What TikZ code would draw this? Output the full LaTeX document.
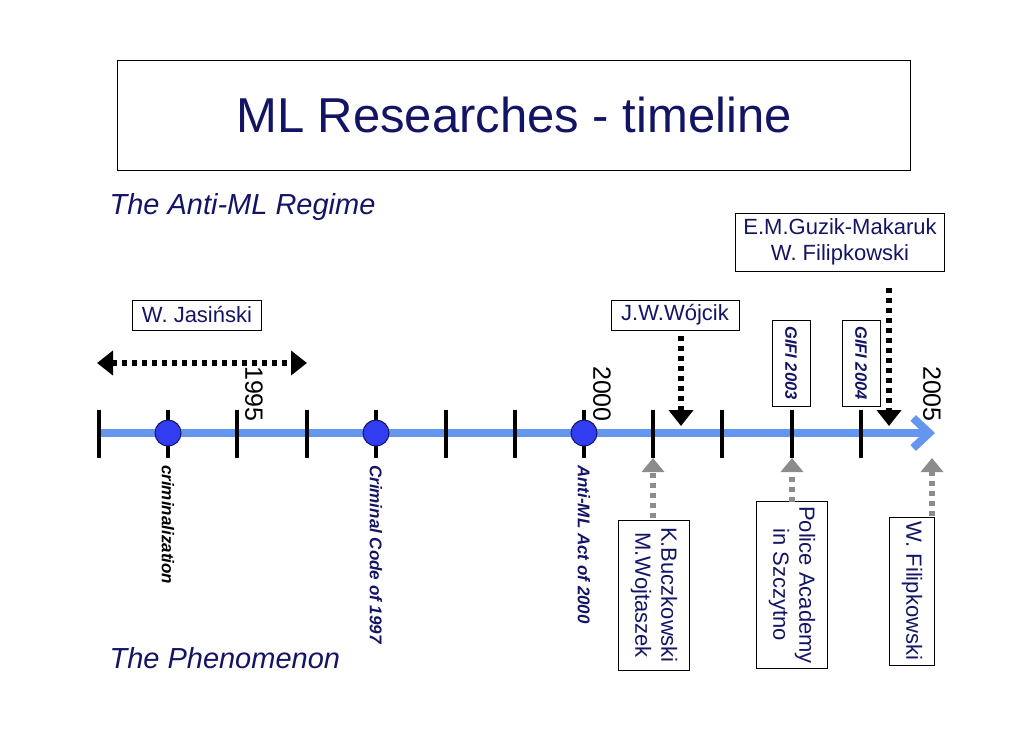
\documentclass[tikz,border=0pt]{standalone}
\usepackage{fontspec}
\setmainfont{Liberation Sans}
\usetikzlibrary{positioning, arrows.meta}
\definecolor{navy}{RGB}{20,20,100}
\definecolor{axisblue}{RGB}{100,150,240}
\definecolor{dotblue}{RGB}{50,60,240}
\definecolor{dotgray}{RGB}{140,140,140}

\begin{document}
\begin{tikzpicture}[x=1pt, y=-1pt,
  namebox/.style={draw, text=navy, font=\fontsize{22}{26}\selectfont, align=center, inner sep=2pt},
  gifibox/.style={draw, rotate=-90, text=navy, font=\fontsize{16.5}{18}\selectfont\bfseries\itshape, minimum width=86pt, minimum height=38pt, inner sep=1pt},
  sidebox/.style={draw, rotate=-90, text=navy, font=\fontsize{22}{26}\selectfont, align=center, inner sep=2pt},
  event/.style={rotate=-90, anchor=west, font=\fontsize{17}{19}\selectfont\bfseries\itshape, inner sep=0pt},
  year/.style={rotate=-90, font=\fontsize{25}{27}\selectfont, inner sep=0pt},
  topline/.style={line width=6pt, dash pattern=on 5pt off 5pt, -{Triangle[length=16pt,width=24pt]}},
  upline/.style={line width=6pt, dotgray, dash pattern=on 5pt off 5pt, -{Triangle[length=14pt,width=22pt]}}]
  \useasboundingbox (0,0) rectangle (1030,728);
  \node[draw, minimum width=793pt, minimum height=110pt, text=navy, font=\fontsize{49}{52}\selectfont] (title) at (514,115) {ML Researches - timeline};
  \node[anchor=west, text=navy, font=\fontsize{29}{31}\selectfont\itshape] (regime) at (106,207) {The Anti-ML Regime};
  \node[anchor=west, text=navy, font=\fontsize{29}{31}\selectfont\itshape] (phen) at (106,658) {The Phenomenon};
  % axis
  \coordinate (start) at (97,433);
  \coordinate (end) at (935,433);
  \draw[axisblue, line width=8pt, -{Straight Barb[length=16pt,width=30pt,line width=8pt]}] (start) -- (end);
  \foreach \x in {99,168,237,307,376,446,515,584,653,722,792,861}{
    \draw[line width=4pt] (\x,410) coordinate (t\x) -- (\x,458) coordinate (b\x);
  }
  \foreach \x in {168,376,584}{
    \filldraw[fill=dotblue, draw=navy, line width=1pt] (\x,433) circle (13pt);
  }
  \node[year] (y1995) at (254,394) {1995};
  \node[year] (y2000) at (602,394) {2000};
  \node[year] (y2005) at (932,394) {2005};
  % events below
  \node[event] (crim) at (168,465) {criminalization};
  \node[event, text=navy] (code) at (376,465) {Criminal Code of 1997};
  \node[event, text=navy] (act) at (584,465) {Anti-ML Act of 2000};
  % researchers above
  \node[namebox, minimum width=129pt, minimum height=30pt] (jas) at (197,315) {W. Jasi\'nski};
  \coordinate (jl) at (97,363);
  \coordinate (jr) at (307,363);
  \draw[line width=6pt, dash pattern=on 5pt off 5pt, {Triangle[length=16pt,width=24pt]}-{Triangle[length=16pt,width=24pt]}] (jl) -- (jr);
  \node[namebox, minimum width=128pt, minimum height=30pt] (woj) at (675,315) {J.W.W\'ojcik};
  \draw[topline] (681,336) -- (681,426);
  \node[namebox, minimum width=209pt, minimum height=58pt] (guz) at (840,242) {E.M.Guzik-Makaruk\\W. Filipkowski};
  \draw[topline] (889,288) -- (889,426);
  \node[gifibox] (g2003) at (791,363) {GIFI 2003};
  \node[gifibox] (g2004) at (861,363) {GIFI 2004};
  % researchers below
  \node[sidebox, minimum width=150pt, minimum height=71pt] (buc) at (654,595) {K.Buczkowski\\M.Wojtaszek};
  \draw[upline] (653,518) -- (b653);
  \node[sidebox, minimum width=167pt, minimum height=71pt] (pol) at (792,585) {Police Academy\\in Szczytno};
  \draw[upline] (792,502) -- (b792);
  \node[sidebox, minimum width=148pt, minimum height=45pt] (fil) at (912,591) {W. Filipkowski};
  \draw[upline] (932,516) -- (932,458);
\end{tikzpicture}
\end{document}
